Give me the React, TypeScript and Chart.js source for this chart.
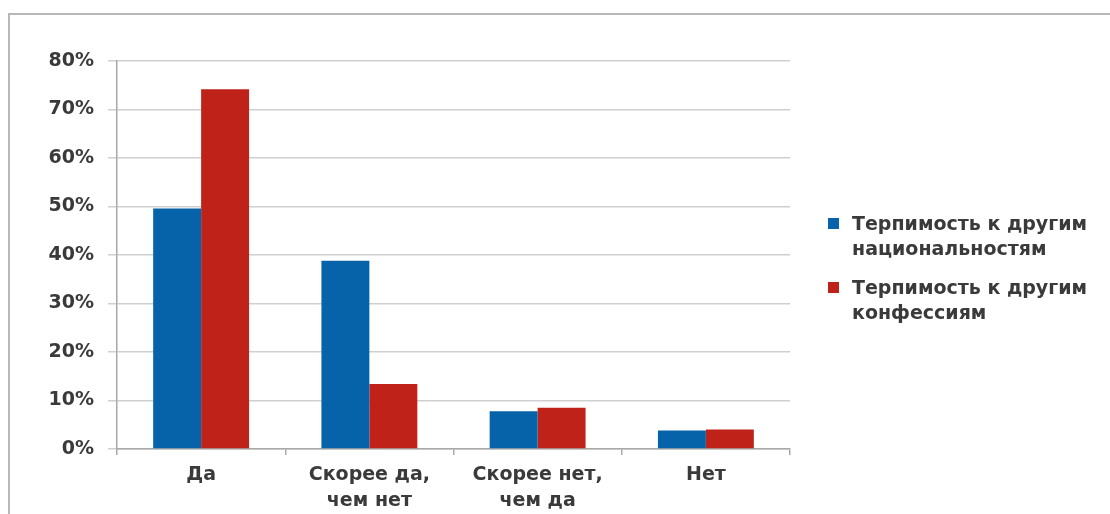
import React, { useEffect, useRef } from "react";
import { Chart, registerables } from "chart.js";

Chart.register(...registerables);

const categories: (string | string[])[] = ["Да", ["Скорее да,", "чем нет"], ["Скорее нет,", "чем да"], "Нет"];
const nationalities = [49.6, 38.8, 7.8, 3.8];
const confessions = [74.2, 13.4, 8.5, 4.0];
const legendLines = [
  ["Терпимость к другим", "национальностям"],
  ["Терпимость к другим", "конфессиям"],
];
const seriesColors = ["#0663AA", "#BE2218"];

const FONT = "'DejaVu Sans', sans-serif";
const TEXT = "#3a3a3a";

const legendPlugin = {
  id: "sideLegend",
  afterDraw(chart: any) {
    const ctx = chart.ctx;
    ctx.save();
    ctx.font = `bold 19px ${FONT}`;
    ctx.fillStyle = TEXT;
    ctx.textBaseline = "alphabetic";
    ctx.textAlign = "left";
    const startY = 218;
    const entryGap = 64;
    chart.data.datasets.forEach((ds: any, i: number) => {
      const top = startY + i * entryGap;
      ctx.fillStyle = ds.backgroundColor;
      ctx.fillRect(828, top, 11, 11);
      ctx.fillStyle = TEXT;
      legendLines[i].forEach((line, j) => {
        ctx.fillText(line, 852, top + 12 + j * 25);
      });
    });
    ctx.restore();
  },
};

export default function App() {
  const ref = useRef<HTMLCanvasElement>(null);
  useEffect(() => {
    if (!ref.current) return;
    const chart = new Chart(ref.current, {
      type: "bar",
      data: {
        labels: categories,
        datasets: [
          {
            label: legendLines[0].join(" "),
            data: nationalities,
            backgroundColor: seriesColors[0],
            categoryPercentage: 0.57,
            barPercentage: 1.0,
          },
          {
            label: legendLines[1].join(" "),
            data: confessions,
            backgroundColor: seriesColors[1],
            categoryPercentage: 0.57,
            barPercentage: 1.0,
          },
        ],
      },
      options: {
        responsive: false,
        animation: false,
        layout: { padding: { left: 0, top: 61, right: 320, bottom: 0 } },
        plugins: {
          legend: { display: false },
          tooltip: { enabled: false },
        },
        scales: {
          x: {
            afterFit: (s: any) => {
              s.height = 65;
            },
            grid: {
              display: true,
              drawOnChartArea: false,
              drawTicks: true,
              tickLength: 6,
              color: "#a8a8a8",
              lineWidth: 1.5,
            },
            border: { display: true, color: "#a8a8a8", width: 1.5 },
            ticks: {
              color: TEXT,
              padding: 8,
              maxRotation: 0,
              font: { family: FONT, size: 19, weight: "bold", lineHeight: 1.32 },
            },
          },
          y: {
            min: 0,
            max: 80,
            afterFit: (s: any) => {
              s.width = 117;
            },
            grid: {
              color: "#cfcfcf",
              lineWidth: 1.5,
              tickLength: 9,
              tickColor: "#cfcfcf",
            },
            border: { display: true, color: "#a8a8a8", width: 1.5 },
            ticks: {
              stepSize: 10,
              color: TEXT,
              padding: 14,
              font: { family: FONT, size: 19, weight: "bold" },
              callback: (v: any) => `${v}%`,
            },
          },
        },
      },
      plugins: [legendPlugin],
    });
    return () => chart.destroy();
  }, []);

  return (
    <div
      style={{
        position: "fixed",
        left: 0,
        top: 0,
        width: 1110,
        height: 514,
        overflow: "hidden",
        background: "#fff",
      }}
    >
      <div
        style={{
          position: "absolute",
          left: 8,
          top: 13,
          width: 1130,
          height: 540,
          border: "2px solid #b8b8b8",
        }}
      />
      <canvas
        ref={ref}
        width={1110}
        height={514}
        style={{ position: "absolute", left: 0, top: 0, display: "block" }}
      />
    </div>
  );
}
